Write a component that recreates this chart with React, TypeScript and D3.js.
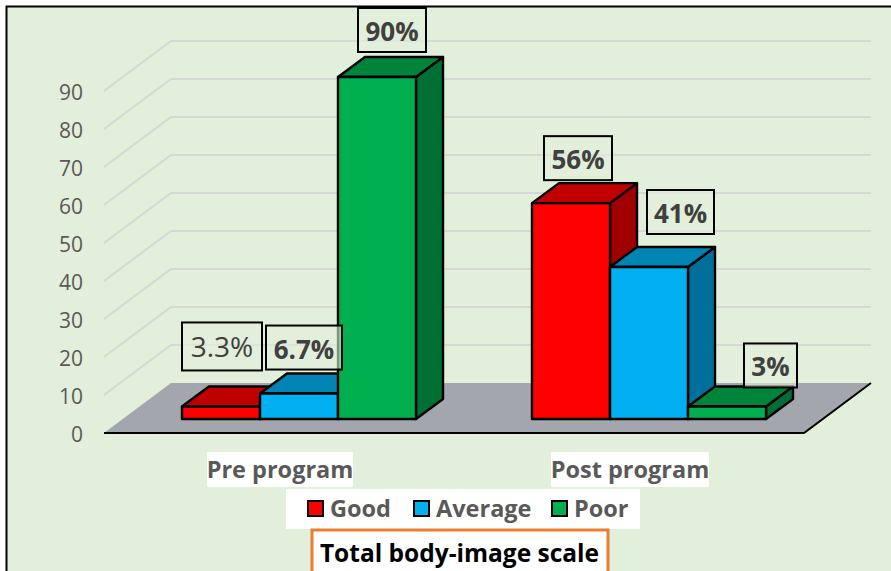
import { useEffect, useRef } from "react";
import * as d3 from "d3";

const categories = ["Pre program", "Post program"];
const seriesNames = ["Good", "Average", "Poor"];
// bar heights as drawn, they differ a little from the printed labels
const goodValues = [3.3, 56.8];
const averageValues = [6.7, 40];
const poorValues = [90, 3.3];
const goodLabels = ["3.3%", "56%"];
const averageLabels = ["6.7%", "41%"];
const poorLabels = ["90%", "3%"];
const yTicks = [0, 10, 20, 30, 40, 50, 60, 70, 80, 90];

const front = ["#FF0000", "#00B0F0", "#00B050"];
const top = ["#C00000", "#0084B4", "#00843C"];
const side = ["#A00000", "#006F9A", "#006F33"];

const FONT = "'Open Sans', sans-serif";

export default function App() {
  const ref = useRef<SVGSVGElement>(null);

  useEffect(() => {
    const svg = d3.select(ref.current);
    svg.selectAll("*").remove();

    // floor depth of the 3d box
    const depthX = 67;
    const depthY = 50;
    const barDepthX = 27;
    const barDepthY = 20;
    const floorLeft = 104;
    const floorRight = 804;
    const y0 = 433;

    const y = d3.scaleLinear().domain([0, 90]).range([y0, 91]);
    const x = d3
      .scaleBand()
      .domain(categories)
      .range([124, 824])
      .paddingInner(116 / 350)
      .paddingOuter(58 / 350);
    const xBar = d3.scaleBand().domain(seriesNames).range([0, x.bandwidth()]);
    const barBase = 419;
    const h = (v: number) => y0 - y(v);

    // background and frame
    svg.append("rect").attr("width", 891).attr("height", 571).attr("fill", "#fff");
    svg.append("rect").attr("x", 6.5).attr("y", 6.5).attr("width", 890).attr("height", 570)
      .attr("fill", "#E2EFDA").attr("stroke", "#000").attr("stroke-width", 2);

    // walls
    const grid = svg.append("g").attr("fill", "none").attr("stroke", "#D6D8D6").attr("stroke-width", 2);
    yTicks.filter((t) => t > 0).forEach((t) => {
      grid.append("path").attr("d", d3.line()([
        [floorLeft, y(t)],
        [floorLeft + depthX, y(t) - depthY],
        [floorRight + depthX, y(t) - depthY],
      ]));
    });

    // floor
    svg.append("path")
      .attr("d", d3.line()([
        [floorLeft, y0],
        [floorRight, y0],
        [floorRight + depthX, y0 - depthY],
        [floorLeft + depthX, y0 - depthY],
      ]) + "Z")
      .attr("fill", "#A4A6AE");
    svg.append("path")
      .attr("d", d3.line()([
        [floorLeft, y0],
        [floorRight, y0],
        [floorRight + depthX, y0 - depthY],
      ]))
      .attr("fill", "none").attr("stroke", "#000").attr("stroke-width", 2);

    // y axis labels
    svg.append("g").selectAll("text").data(yTicks).join("text")
      .attr("x", 83)
      .attr("y", (d) => y(d) + 9)
      .attr("text-anchor", "end")
      .attr("font-family", FONT)
      .attr("font-size", 21)
      .attr("fill", "#595959")
      .text((d) => d);

    // bars
    const valuesBySeries = [goodValues, averageValues, poorValues];
    const labelsBySeries = [goodLabels, averageLabels, poorLabels];
    const bars = svg.append("g").attr("stroke", "#000").attr("stroke-width", 2.4).attr("stroke-linejoin", "round");
    const w = xBar.bandwidth();
    categories.forEach((cat, c) => {
      seriesNames.forEach((name, s) => {
        const v = valuesBySeries[s][c];
        const bx = (x(cat) as number) + (xBar(name) as number);
        const by = barBase - h(v);
        bars.append("path")
          .attr("d", d3.line()([[bx + w, by], [bx + w + barDepthX, by - barDepthY], [bx + w + barDepthX, barBase - barDepthY], [bx + w, barBase]]) + "Z")
          .attr("fill", side[s]);
        bars.append("path")
          .attr("d", d3.line()([[bx, by], [bx + barDepthX, by - barDepthY], [bx + w + barDepthX, by - barDepthY], [bx + w, by]]) + "Z")
          .attr("fill", top[s]);
        bars.append("rect").attr("x", bx).attr("y", by).attr("width", w).attr("height", barBase - by).attr("fill", front[s]);
      });
    });

    // data labels, hand placed in the original so offsets are per bar
    const labelBoxes = [
      [[0, -84, 80, 48, 400], [6, -68, 76, 44, 700], [20, -69, 68, 44, 700]],
      [[12, -67, 68, 44, 700], [37, -77, 67, 44, 700], [56, -63, 53, 44, 700]],
    ];
    categories.forEach((cat, c) => {
      seriesNames.forEach((name, s) => {
        const v = valuesBySeries[s][c];
        const bx = (x(cat) as number) + (xBar(name) as number);
        const by = barBase - h(v);
        const [ox, oy, bw, bh, weight] = labelBoxes[c][s];
        const g = svg.append("g").attr("transform", `translate(${bx + ox},${by + oy})`);
        g.append("rect").attr("width", bw).attr("height", bh)
          .attr("fill", "#E2EFDA").attr("fill-opacity", 0.6)
          .attr("stroke", "#000").attr("stroke-width", 2);
        g.append("text").attr("x", bw / 2).attr("y", bh / 2 + 11)
          .attr("text-anchor", "middle")
          .attr("font-family", FONT)
          .attr("font-size", weight === 400 ? 28 : 26)
          .attr("font-weight", weight)
          .attr("fill", "#404040")
          .text(labelsBySeries[s][c]);
      });
    });

    // category labels
    const catBoxes = [[207, 146], [551, 158]];
    categories.forEach((cat, c) => {
      svg.append("rect").attr("x", catBoxes[c][0]).attr("y", 452).attr("width", catBoxes[c][1]).attr("height", 35).attr("fill", "#fff");
      svg.append("text")
        .attr("x", catBoxes[c][0] + catBoxes[c][1] / 2).attr("y", 478)
        .attr("text-anchor", "middle")
        .attr("font-family", FONT).attr("font-size", 23.5).attr("font-weight", 700)
        .attr("fill", "#595959")
        .text(cat);
    });

    // legend
    svg.append("rect").attr("x", 286).attr("y", 489).attr("width", 354).attr("height", 40).attr("fill", "#fff");
    const legendX = [308, 414, 552];
    seriesNames.forEach((name, s) => {
      svg.append("rect").attr("x", legendX[s]).attr("y", 501).attr("width", 15).attr("height", 15)
        .attr("fill", front[s]).attr("stroke", "#000").attr("stroke-width", 2);
      svg.append("text").attr("x", legendX[s] + 22).attr("y", 517)
        .attr("font-family", FONT).attr("font-size", 23.5).attr("font-weight", 700)
        .attr("fill", "#595959").text(name);
    });

    // caption
    svg.append("rect").attr("x", 312).attr("y", 530).attr("width", 296).attr("height", 50)
      .attr("fill", "#fff").attr("stroke", "#ED7D31").attr("stroke-width", 3);
    svg.append("text").attr("x", 459.5).attr("y", 562)
      .attr("text-anchor", "middle")
      .attr("font-family", FONT).attr("font-size", 24.5).attr("font-weight", 700)
      .attr("fill", "#000").text("Total body-image scale");
  }, []);

  return <svg ref={ref} width={891} height={571} style={{ position: "absolute", left: 0, top: 0 }} />;
}
